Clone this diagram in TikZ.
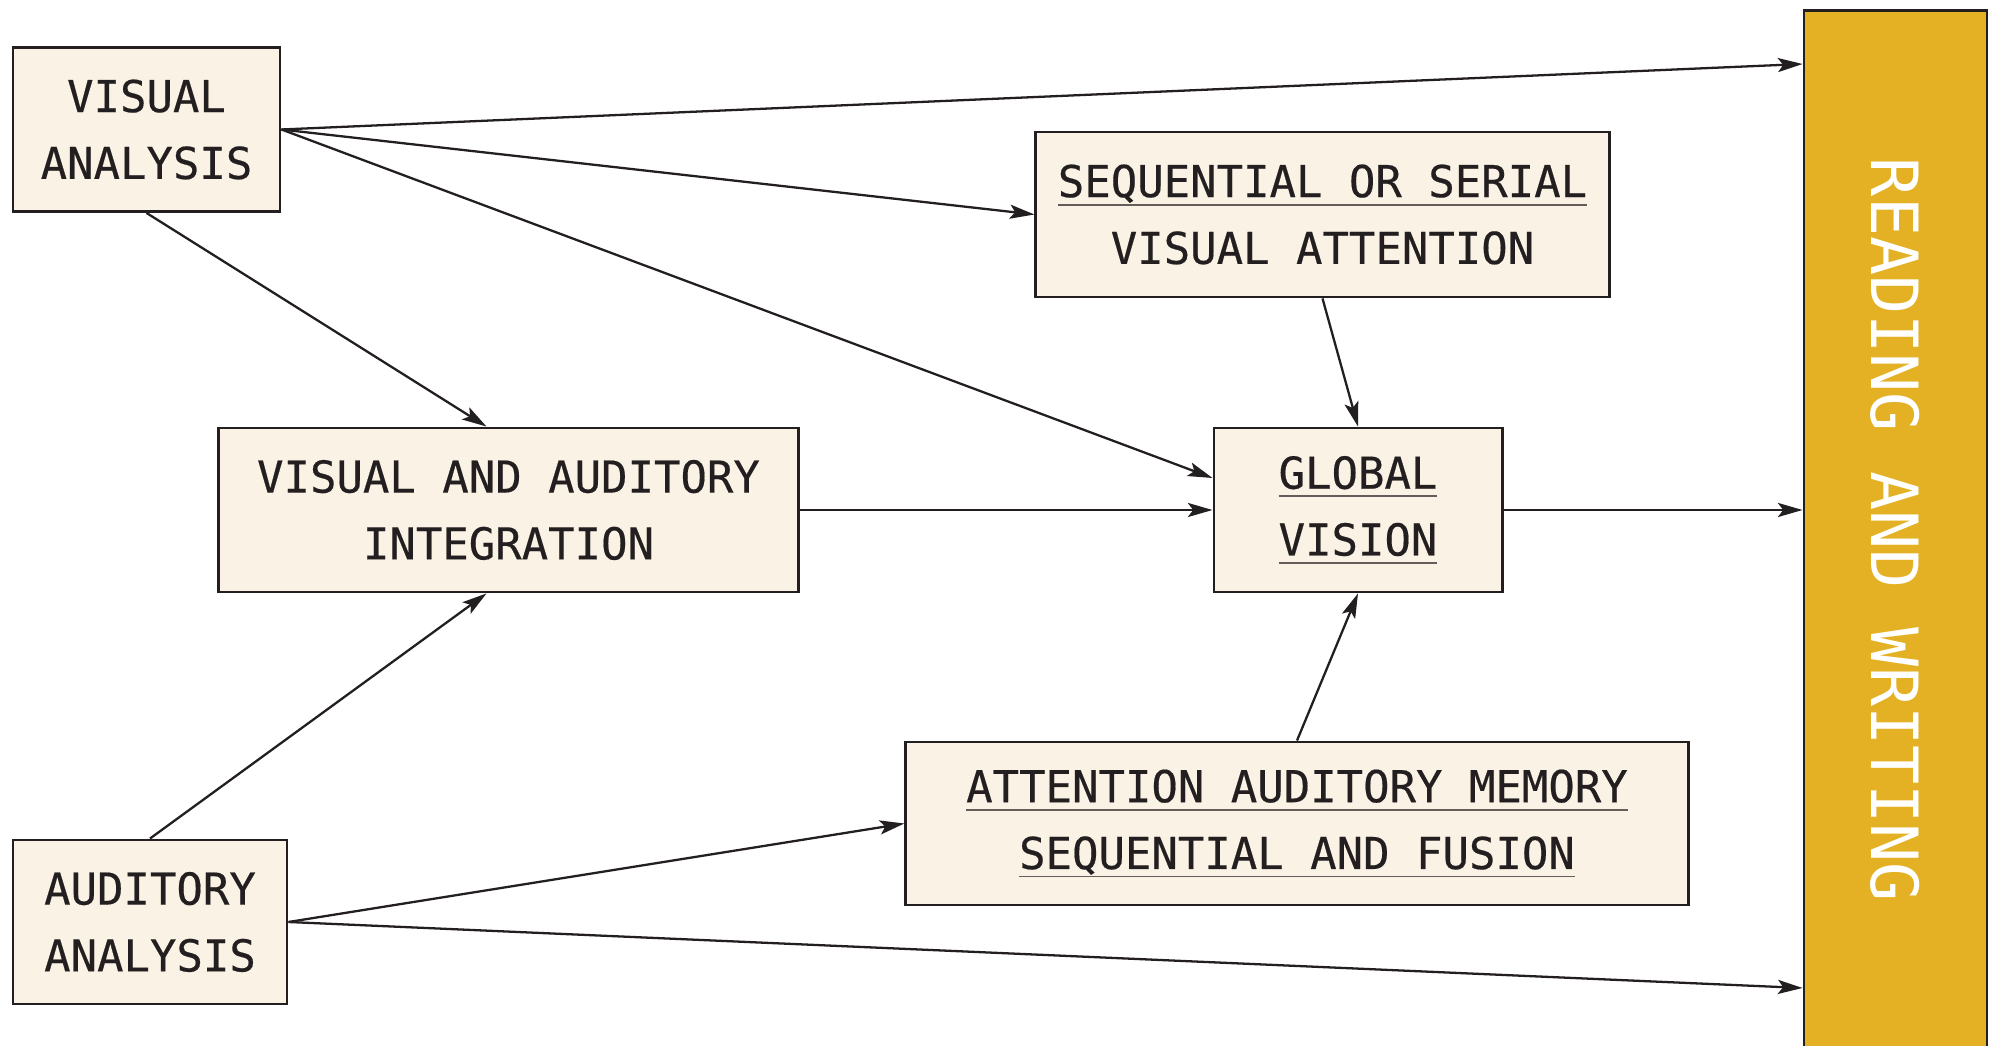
\documentclass[tikz,border=0pt]{standalone}
\usepackage{fontspec}
\newfontfamily\boxfont[FakeBold=0.4]{DejaVu Sans Mono}
\newfontfamily\barfont{DejaVu Sans Mono}
\definecolor{cardfill}{RGB}{250,242,228}
\definecolor{cardline}{RGB}{35,31,32}
\definecolor{barfill}{RGB}{228,177,36}
\definecolor{undlgray}{RGB}{100,94,90}
\usetikzlibrary{arrows.meta,calc}
\newsavebox\undlbox
\newcommand{\undl}[1]{\sbox\undlbox{#1}\rlap{\color{undlgray}\rule[-2.4pt]{\wd\undlbox}{0.5pt}}\usebox\undlbox}

\begin{document}
\begin{tikzpicture}[x=0.01cm, y=-0.01cm,
      arr/.style={-{Stealth[length=7pt,width=4pt,inset=1.5pt]}, line width=0.65pt, cardline},
      card/.style={draw=cardline, line width=0.8pt, fill=cardfill, align=center,
                   inner sep=0pt, text=cardline,
                   font=\boxfont\fontsize{12.5}{19}\selectfont},
      barbox/.style={draw=cardline, line width=0.8pt, fill=barfill, anchor=north}
    ]
    \useasboundingbox (0,0) rectangle (1993,1046);
    \node[card, minimum width=2.67cm, minimum height=1.64cm] (vis) at (146.5,129.5) {VISUAL\\ANALYSIS};
    \node[card, minimum width=2.74cm, minimum height=1.64cm] (aud) at (150,922) {AUDITORY\\ANALYSIS};
    \node[card, minimum width=5.73cm, minimum height=1.65cm] (seq) at (1322.5,214.5) {%
      \undl{SEQUENTIAL OR SERIAL}\\VISUAL ATTENTION};
    \node[card, minimum width=5.79cm, minimum height=1.64cm] (integ) at (508.5,510) {%
      VISUAL AND AUDITORY\\INTEGRATION};
    \node[card, minimum width=2.88cm, minimum height=1.64cm] (glob) at (1358,510) {%
      \undl{GLOBAL}\\\undl{VISION}};
    \node[card, minimum width=7.82cm, minimum height=1.63cm] (attn) at (1297,823.5) {%
      \undl{ATTENTION AUDITORY MEMORY}\\\undl{SEQUENTIAL AND FUSION}};
    \node[barbox, minimum width=1.83cm, minimum height=10.8cm] (bar) at (1895.5,9) {};
    \node[rotate=-90, text=white, font=\barfont\fontsize{18.5}{22}\selectfont] (barlbl) at (1895,530) {READING AND WRITING};
    % arrow ends on the bar
    \coordinate (rw1) at ($(bar.north west)+(0,55)$);
    \coordinate (rw2) at (bar.west |- glob.east);
    \coordinate (rw3) at ($(bar.north west)+(0,979)$);
    \draw[arr] (vis.east) -- (rw1);
    \draw[arr] (vis.east) -- (seq.west);
    \draw[arr] (vis.east) -- ($(glob.west)+(0,-32)$);
    \draw[arr] (vis.south) -- ($(integ.north)+(-22,0)$);
    \draw[arr] (aud.north) -- ($(integ.south)+(-22,0)$);
    \draw[arr] (integ.east) -- (glob.west);
    \draw[arr] (seq.south) -- (glob.north);
    \draw[arr] (attn.north) -- (glob.south);
    \draw[arr] (glob.east) -- (rw2);
    \draw[arr] (aud.east) -- (attn.west);
    \draw[arr] (aud.east) -- (rw3);
  \end{tikzpicture}
\end{document}
